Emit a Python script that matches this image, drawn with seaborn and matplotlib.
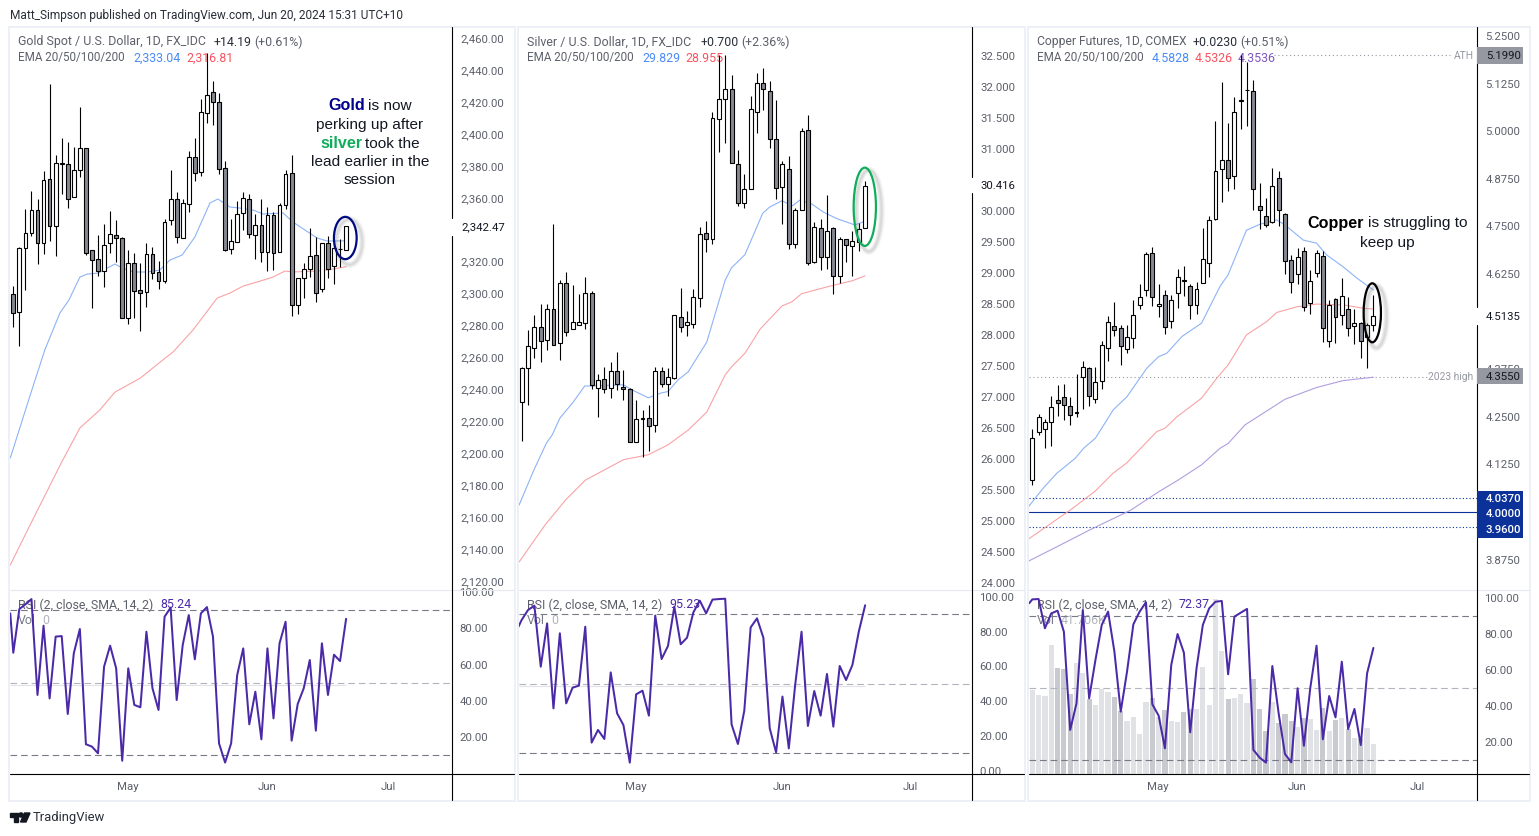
# Gold, silver and copper daily candles with EMA and RSI panes
import numpy as np
import matplotlib
matplotlib.use("Agg")
import matplotlib.pyplot as plt
from matplotlib.patches import Ellipse, Rectangle, Polygon, Circle
import seaborn as sns

# Gold
gold_open = [2299.5, 2288.6, 2328.3, 2337.7, 2352.1, 2331.9, 2371.5, 2342.1, 2381.3, 2380.9, 2360.2, 2377.2, 2390.9, 2327.1,
             2321.4, 2313.9, 2331.4, 2336.5, 2334.6, 2284.5, 2318.9, 2302.0, 2300.8, 2324.6, 2313.3, 2307.7, 2345.8, 2359.0,
             2334.6, 2355.9, 2385.3, 2375.9, 2412.8, 2426.0, 2419.7, 2378.4, 2327.7, 2332.5, 2350.2, 2359.0, 2336.5, 2342.7,
             2325.8, 2349.4, 2325.8, 2355.2, 2375.3, 2292.6, 2309.5, 2315.2, 2323.9, 2302.6, 2331.4, 2317.1, 2327.7, 2327.1]
gold_close = [2288.0, 2328.3, 2337.7, 2352.1, 2331.4, 2370.9, 2342.1, 2381.5, 2381.5, 2359.0, 2377.2, 2390.9, 2325.2, 2320.8,
              2313.9, 2330.2, 2337.1, 2334.6, 2284.5, 2318.9, 2301.4, 2300.6, 2324.6, 2312.7, 2307.7, 2344.6, 2359.0, 2335.2,
              2356.5, 2385.3, 2375.3, 2413.5, 2424.1, 2419.7, 2378.0, 2327.5, 2332.7, 2349.6, 2359.6, 2337.1, 2342.7, 2325.8,
              2349.0, 2325.2, 2355.2, 2374.6, 2292.6, 2309.5, 2315.2, 2323.3, 2300.1, 2331.4, 2315.2, 2328.3, 2328.1, 2342.47]
gold_high = [2304.7, 2329.3, 2352.9, 2364.2, 2359.2, 2376.7, 2431.2, 2386.8, 2397.4, 2394.9, 2391.8, 2416.8, 2390.9, 2327.3,
             2336.7, 2343.7, 2351.7, 2345.8, 2335.2, 2327.3, 2325.2, 2318.9, 2331.4, 2328.9, 2320.2, 2346.7, 2377.3, 2363.6,
             2359.0, 2389.5, 2397.2, 2421.8, 2450.4, 2433.1, 2425.4, 2383.0, 2346.7, 2357.7, 2363.6, 2362.1, 2349.6, 2359.0,
             2354.0, 2351.3, 2356.5, 2377.3, 2386.8, 2309.5, 2318.9, 2340.8, 2335.6, 2331.4, 2336.0, 2333.5, 2334.2, 2342.5]
gold_low = [2279.3, 2267.4, 2302.2, 2336.0, 2318.7, 2325.0, 2333.1, 2323.7, 2362.3, 2353.8, 2360.2, 2372.8, 2324.4, 2291.2,
            2311.0, 2304.3, 2325.2, 2319.6, 2284.5, 2281.2, 2284.9, 2276.8, 2291.4, 2308.9, 2303.1, 2306.4, 2343.1, 2331.9,
            2334.6, 2351.3, 2370.7, 2373.4, 2406.6, 2405.3, 2374.6, 2326.4, 2324.8, 2332.1, 2339.8, 2334.6, 2321.8, 2320.0,
            2314.3, 2314.7, 2325.8, 2353.2, 2286.2, 2287.4, 2297.0, 2310.2, 2294.9, 2301.2, 2309.5, 2306.0, 2316.4, 2327.1]
gold_ema20_x = [-0.5, 2.8, 5.2, 7.7, 9.2, 11, 12.2, 14, 16.8, 18, 19.8, 22.1, 24.2, 25.9, 27.9, 30, 32.5, 33.8, 35.8, 37.5,
                39.6, 41.3, 44.6, 46.2, 50.2, 51.9, 55]
gold_ema20 = [2197.0, 2236.5, 2264.6, 2287.8, 2296.0, 2310.3, 2312.2, 2312.8, 2318.5, 2316.0, 2313.5, 2313.5, 2314.7, 2321.0,
              2324.1, 2335.4, 2356.7, 2359.2, 2354.2, 2353.5, 2352.3, 2349.8, 2350.4, 2344.8, 2334.8, 2332.9, 2333.0]
gold_ema50_x = [-0.5, 2.5, 8, 11, 14.3, 16.8, 21, 24.7, 26.4, 29.7, 33.7, 35.8, 38, 40.8, 42.9, 44.9, 46.2, 50.2, 51.9, 55]
gold_ema50 = [2130.0, 2153.0, 2194.5, 2215.8, 2227.1, 2238.3, 2247.1, 2258.4, 2263.4, 2277.2, 2297.2, 2300.3, 2304.7, 2307.8,
              2310.3, 2314.1, 2313.5, 2314.1, 2314.7, 2316.8]
gold_rsi = [88.2, 66.5, 90.6, 93.2, 96.1, 43.2, 81.4, 41.3, 75.4, 75.7, 32.7, 66.2, 79.6, 16.0, 14.7, 11.0, 58.8, 70.4, 57.9,
            6.9, 57.9, 37.7, 36.4, 78.1, 46.9, 34.9, 86.4, 91.4, 40.4, 70.8, 87.3, 62.9, 88.2, 91.7, 75.4, 16.5, 5.9, 16.5,
            54.2, 68.9, 27.0, 45.0, 18.7, 68.9, 30.3, 71.7, 83.6, 18.0, 38.2, 46.9, 62.5, 23.5, 71.7, 43.2, 65.4, 61.9, 85.24]
gold_ticks = [2460, 2440, 2420, 2400, 2380, 2360, 2320, 2300, 2280, 2260, 2240, 2220, 2200, 2180, 2160, 2140, 2120]

# Silver
silver_open = [26.93, 27.47, 27.80, 28.13, 27.92, 28.43, 27.88, 28.85, 28.10, 28.17, 28.20, 28.68, 27.14, 27.29, 27.14, 27.42,
               27.17, 27.13, 26.27, 26.65, 26.67, 26.55, 27.43, 27.22, 27.31, 28.30, 28.16, 28.18, 28.60, 29.65, 29.56, 31.49,
               31.81, 31.97, 30.76, 30.13, 30.36, 31.61, 32.07, 31.94, 31.16, 30.40, 30.69, 29.47, 30.02, 31.31, 29.18, 29.73,
               29.26, 29.73, 28.95, 29.55, 29.44, 29.50, 29.73]
silver_close = [27.47, 27.82, 28.13, 27.90, 28.42, 27.84, 28.85, 28.06, 28.21, 28.21, 28.68, 27.19, 27.27, 27.13, 27.42, 27.21,
                27.13, 26.27, 26.64, 26.66, 26.54, 27.43, 27.22, 27.32, 28.32, 28.14, 28.21, 28.61, 29.63, 29.56, 31.50, 31.81,
                31.97, 30.78, 30.13, 30.36, 31.65, 32.08, 31.97, 31.16, 30.37, 30.76, 29.48, 30.02, 31.29, 29.16, 29.74, 29.26,
                29.68, 28.95, 29.55, 29.45, 29.52, 29.71, 30.416]
silver_high = [27.48, 28.08, 28.33, 28.51, 28.50, 29.80, 28.89, 29.02, 28.81, 28.67, 28.94, 28.71, 27.37, 27.48, 27.57, 27.73,
               27.44, 27.14, 26.96, 26.80, 26.87, 27.49, 27.49, 27.47, 28.32, 28.77, 28.39, 28.74, 29.75, 29.84, 31.60, 32.52,
               32.52, 32.20, 30.99, 30.61, 31.87, 32.24, 32.31, 32.10, 31.79, 30.81, 30.89, 30.05, 31.34, 31.56, 29.83, 29.88,
               30.26, 29.74, 29.59, 29.56, 29.68, 29.81, 30.49]
silver_low = [26.30, 26.88, 27.64, 27.56, 27.76, 27.84, 27.60, 27.98, 28.10, 28.17, 28.10, 27.13, 26.68, 27.06, 26.99, 27.11,
              26.96, 26.27, 26.27, 26.03, 26.13, 26.44, 27.17, 27.02, 27.30, 28.06, 27.98, 28.11, 28.46, 29.35, 29.48, 30.96,
              31.10, 30.78, 30.09, 30.06, 30.36, 31.27, 31.63, 31.03, 30.20, 29.80, 29.40, 29.41, 30.02, 29.13, 29.16, 29.05,
              29.07, 28.67, 28.84, 29.19, 28.95, 29.36, 29.73]
silver_ema20_x = [-0.4, 1.9, 3.9, 4.8, 6, 8.1, 9.9, 11, 16, 17.3, 19.9, 22, 23, 24.6, 26.2, 29.1, 32, 33, 35.1, 37.9, 39, 40.9,
                  42.6, 43.7, 45.6, 47.4, 49.6, 52.4, 53.7, 54]
silver_ema20 = [25.26, 25.82, 26.26, 26.39, 26.66, 26.92, 27.18, 27.18, 27.20, 27.12, 26.99, 27.07, 27.09, 27.28, 27.41, 27.89,
                28.89, 29.09, 29.30, 29.97, 30.07, 30.17, 30.09, 30.18, 30.12, 29.99, 29.88, 29.78, 29.83, 29.83]
silver_ema50_x = [-0.4, 3.7, 6.9, 10, 12.9, 16, 19.9, 23, 26.2, 29.1, 32, 33, 35.1, 37.5, 40.9, 42.5, 44, 48, 52, 54]
silver_ema50 = [24.34, 24.94, 25.34, 25.66, 25.82, 25.99, 26.07, 26.23, 26.47, 26.76, 27.36, 27.49, 27.71, 28.10, 28.47, 28.54,
                28.67, 28.78, 28.88, 28.96]
silver_rsi = [82.9, 86.8, 92.5, 95.0, 59.9, 84.8, 35.9, 79.1, 38.8, 47.8, 49.0, 82.9, 16.2, 23.5, 18.3, 56.6, 33.1, 26.3, 4.7,
              44.0, 46.1, 31.7, 89.3, 64.3, 71.8, 94.4, 72.8, 76.6, 91.2, 97.9, 90.6, 98.5, 98.8, 99.0, 26.7, 15.4, 34.6, 82.5,
              87.7, 76.6, 24.4, 10.6, 42.7, 12.9, 49.4, 80.0, 25.8, 45.9, 31.7, 55.7, 25.4, 60.3, 52.2, 60.9, 80.0, 95.23]
silver_ticks = [32.5, 32.0, 31.5, 31.0, 30.0, 29.5, 29.0, 28.5, 28.0, 27.5, 27.0, 26.5, 26.0, 25.5, 25.0, 24.5, 24.0]

# Copper
copper_open = [4.083, 4.211, 4.219, 4.236, 4.293, 4.301, 4.278, 4.261, 4.354, 4.377, 4.296, 4.343, 4.430, 4.488, 4.482, 4.427,
               4.456, 4.543, 4.582, 4.679, 4.540, 4.569, 4.501, 4.574, 4.608, 4.593, 4.543, 4.601, 4.653, 4.770, 4.900, 4.924,
               4.882, 5.080, 5.107, 5.105, 4.803, 4.777, 4.761, 4.876, 4.782, 4.661, 4.624, 4.685, 4.548, 4.627, 4.671, 4.448,
               4.559, 4.517, 4.532, 4.488, 4.496, 4.459, 4.490]
copper_close = [4.194, 4.249, 4.236, 4.275, 4.286, 4.282, 4.254, 4.263, 4.380, 4.304, 4.341, 4.438, 4.498, 4.477, 4.435, 4.459,
                4.517, 4.564, 4.677, 4.564, 4.545, 4.485, 4.556, 4.616, 4.607, 4.543, 4.585, 4.664, 4.766, 4.895, 4.924, 4.876,
                5.050, 5.081, 5.107, 4.847, 4.792, 4.753, 4.855, 4.792, 4.658, 4.603, 4.669, 4.538, 4.606, 4.679, 4.482, 4.543,
                4.511, 4.566, 4.482, 4.496, 4.448, 4.490, 4.5135]
copper_high = [4.218, 4.258, 4.244, 4.305, 4.334, 4.336, 4.303, 4.362, 4.397, 4.380, 4.380, 4.449, 4.515, 4.552, 4.491, 4.491,
               4.557, 4.599, 4.684, 4.696, 4.599, 4.583, 4.570, 4.638, 4.646, 4.598, 4.603, 4.745, 4.777, 5.027, 5.129, 5.022,
               5.090, 5.200, 5.183, 5.135, 4.863, 4.824, 4.903, 4.895, 4.784, 4.674, 4.693, 4.695, 4.636, 4.688, 4.686, 4.556,
               4.561, 4.614, 4.564, 4.532, 4.500, 4.497, 4.569]
copper_low = [4.072, 4.203, 4.169, 4.173, 4.253, 4.242, 4.229, 4.250, 4.271, 4.279, 4.286, 4.323, 4.397, 4.461, 4.387, 4.417,
              4.430, 4.534, 4.567, 4.541, 4.513, 4.468, 4.484, 4.536, 4.567, 4.508, 4.520, 4.601, 4.618, 4.767, 4.814, 4.844,
              4.848, 5.006, 5.014, 4.793, 4.743, 4.749, 4.758, 4.752, 4.624, 4.574, 4.598, 4.528, 4.519, 4.618, 4.447, 4.432,
              4.445, 4.490, 4.461, 4.442, 4.404, 4.377, 4.476]
copper_ema20_x = [-0.6, 1.7, 3.9, 6.8, 8.1, 10, 12.8, 15, 18.1, 20, 21.3, 23.7, 26.8, 29.7, 31, 33.9, 36.1, 38.7, 40, 42.9, 45,
                  46.6, 49.2, 51.4, 54]
copper_ema20 = [4.014, 4.062, 4.102, 4.141, 4.167, 4.194, 4.268, 4.303, 4.377, 4.408, 4.417, 4.461, 4.496, 4.592, 4.623, 4.740,
                4.756, 4.767, 4.754, 4.714, 4.706, 4.675, 4.644, 4.614, 4.583]
copper_ema50_x = [-0.6, 6, 9.9, 12.8, 14.9, 17.9, 19.7, 21, 22.9, 26.8, 29.2, 31, 33.9, 37.1, 38.7, 41.9, 45, 49.2, 52.4, 54]
copper_ema50 = [3.929, 4.005, 4.054, 4.102, 4.128, 4.180, 4.211, 4.220, 4.250, 4.299, 4.351, 4.386, 4.465, 4.500, 4.524, 4.539,
                4.546, 4.544, 4.535, 4.533]
copper_ema100_x = [-0.6, 4.4, 9.1, 15.6, 20, 23.1, 26.8, 29.7, 31, 33.7, 40, 45, 49.2, 54]
copper_ema100 = [3.871, 3.913, 3.953, 4.005, 4.053, 4.084, 4.124, 4.167, 4.180, 4.229, 4.296, 4.327, 4.345, 4.354]
copper_rsi = [97.2, 99.4, 99.6, 83.3, 91.6, 93.1, 81.4, 26.7, 41.5, 93.5, 44.3, 65.7, 85.2, 92.6, 70.3, 36.9, 59.2, 85.5, 92.6,
              97.8, 41.0, 34.7, 16.5, 62.9, 80.1, 69.7, 25.4, 61.0, 85.2, 94.4, 98.1, 98.5, 57.7, 89.8, 92.0, 94.1, 15.6, 11.3,
              8.5, 62.3, 36.0, 13.3, 8.7, 49.9, 17.9, 49.9, 73.6, 21.5, 45.6, 33.7, 64.7, 27.2, 38.4, 18.3, 58.2, 72.37]
copper_vol = [118.5, 111.4, 110.0, 182.5, 149.3, 148.4, 112.8, 156.9, 142.7, 105.7, 97.2, 119.9, 116.1, 108.5, 88.6, 74.4, 80.1,
              55.9, 101.9, 107.1, 80.1, 90.1, 74.4, 73.0, 87.2, 91.5, 91.5, 151.7, 97.2, 247.9, 174.0, 105.7, 107.1, 112.8,
              100.0, 134.1, 91.5, 60.2, 101.0, 71.6, 84.4, 74.4, 65.9, 78.2, 77.3, 61.6, 92.9, 60.2, 75.8, 78.7, 63.0, 50.2,
              48.8, 64.5, 41.7]
copper_ticks = [5.25, 5.125, 5.0, 4.875, 4.75, 4.625, 4.375, 4.25, 4.125, 3.875]
rsi_ticks_gold = [100, 80, 60, 40, 20]
rsi_ticks_silver = [100, 80, 60, 40, 20, 0]

WICK = "#000000"
DOWN = "#868993"
BLUE = "#8db3f7"
RED = "#f9a3a6"
PURPLE = "#b19de0"
RSI_COL = "#4b2aa8"
GREY_TXT = "#5d606b"
PANEL = "#eef0f7"
FONT = "Roboto"
ARIAL = "Liberation Sans"
LW = 0.8

sns.set_theme(style="white")
plt.rcParams["font.family"] = FONT

W, H = 1539, 836
fig = plt.figure(figsize=(W / 100, H / 100), dpi=100, facecolor="white")


def px_axes(x0, y0, x1, y1):
    return fig.add_axes([x0 / W, 1 - y1 / H, (x1 - x0) / W, (y1 - y0) / H])


def draw_candles(ax, o, h, l, c):
    o, h, l, c = map(np.array, (o, h, l, c))
    x = np.arange(len(o))
    ax.vlines(x, l, h, color=WICK, lw=LW, zorder=3)
    up = c >= o
    colors = np.where(up, "white", DOWN)
    ax.bar(x, np.maximum(np.abs(c - o), 1e-6), bottom=np.minimum(o, c), width=0.62, color=colors,
           edgecolor="black", linewidth=LW, zorder=4)


def draw_line(ax, xs, ys, color, lw=LW, z=2):
    sns.lineplot(x=xs, y=ys, ax=ax, color=color, lw=lw, zorder=z, sort=False, errorbar=None, legend=False)


def setup_price(ax, xlim, ylim, ticks, fmt):
    ax.set_xlim(xlim)
    ax.set_ylim(ylim)
    ax.yaxis.tick_right()
    ax.set_yticks(ticks)
    ax.set_yticklabels([fmt.format(t) for t in ticks])
    ax.set_xticks([])
    ax.set_xlabel("")
    ax.tick_params(axis="y", length=0, pad=6.2, labelsize=8.2, labelcolor=GREY_TXT)
    sns.despine(ax=ax, left=True, bottom=True)
    ax.patch.set_alpha(0)


def setup_rsi(ax, xlim, ylim, ticks, month_pos):
    ax.set_xlim(xlim)
    ax.set_ylim(ylim)
    ax.yaxis.tick_right()
    ax.set_yticks(ticks)
    ax.set_yticklabels(["{:.2f}".format(t) for t in ticks])
    ax.set_xticks(month_pos)
    ax.set_xticklabels(["May", "Jun", "Jul"])
    ax.tick_params(axis="y", length=0, pad=5.2, labelsize=8.2, labelcolor=GREY_TXT)
    ax.tick_params(axis="x", length=0, pad=6, labelsize=8.2, labelcolor=GREY_TXT)
    sns.despine(ax=ax, left=True, bottom=True)
    ax.patch.set_alpha(0)
    ax.axhline(90, color="#787b86", lw=LW, dashes=(6, 3.5), zorder=1)
    ax.axhline(50, color="#b2b5be", lw=LW, dashes=(6, 3.5), zorder=1)
    ax.axhline(10, color="#787b86", lw=LW, dashes=(6, 3.5), zorder=1)


def draw_rsi(ax, values):
    xs = [-0.5] + list(range(len(values) - 1))
    draw_line(ax, xs, values, RSI_COL, lw=1.45, z=5)


# Gold panes
ax1 = px_axes(10, 27, 452, 589.5)
draw_line(ax1, gold_ema20_x, gold_ema20, BLUE)
draw_line(ax1, gold_ema50_x, gold_ema50, RED)
draw_candles(ax1, gold_open, gold_high, gold_low, gold_close)
setup_price(ax1, (-0.545, 72.5), (2114.7, 2466.9), gold_ticks, "{:,.2f}")
rsi1 = px_axes(10, 589.5, 452, 773.5)
setup_rsi(rsi1, (-0.545, 72.5), (-0.14, 101.4), rsi_ticks_gold, [18.96, 41.9, 61.9])
rsi1.hlines(48.5, -0.545, 55, color="#e2e3e6", lw=LW, zorder=1)
draw_rsi(rsi1, gold_rsi)

# Silver panes
ax2 = px_axes(519, 27, 972, 589.5)
draw_line(ax2, silver_ema20_x, silver_ema20, BLUE)
draw_line(ax2, silver_ema50_x, silver_ema50, RED)
draw_candles(ax2, silver_open, silver_high, silver_low, silver_close)
setup_price(ax2, (-0.42, 70.8), (23.895, 32.976), silver_ticks, "{:.3f}")
rsi2 = px_axes(519, 589.5, 972, 773.5)
setup_rsi(rsi2, (-0.42, 70.8), (-1.56, 104.3), rsi_ticks_silver, [17.9, 41, 61.1])
rsi2.hlines(48.8, -0.42, 54, color="#e2e3e6", lw=LW, zorder=1)
draw_rsi(rsi2, silver_rsi)

# Copper panes
ax3 = px_axes(1029, 27, 1477, 589.5)
draw_line(ax3, copper_ema20_x, copper_ema20, BLUE)
draw_line(ax3, copper_ema50_x, copper_ema50, RED)
draw_line(ax3, copper_ema100_x, copper_ema100, PURPLE)
draw_candles(ax3, copper_open, copper_high, copper_low, copper_close)
setup_price(ax3, (-0.52, 70.4), (3.7965, 5.2736), copper_ticks, "{:.4f}")
for lvl, ls in [(4.037, (0, (1, 2))), (3.96, (0, (1, 2))), (4.0, "-")]:
    ax3.axhline(lvl, color="#0c3299", lw=LW, ls=ls, zorder=1)
ax3.hlines(4.355, -0.52, 62.8, color="#9598a1", lw=LW, ls=(0, (1, 2.5)), zorder=1)
ax3.hlines(5.199, 38.3, 66.2, color="#9598a1", lw=LW, ls=(0, (1, 2.5)), zorder=1)

vol3 = px_axes(1029, 589.5, 1477, 773.5)
vol3.set_zorder(-2)
vol_colors = ["#e1e2e6" if c >= o else "#c9cacf" for o, c in zip(copper_open, copper_close)]
vol3.bar(np.arange(len(copper_vol)), copper_vol, width=0.82, color=vol_colors, linewidth=0)
vol3.set_xlim(-0.52, 70.4)
vol3.set_ylim(0, 261)
vol3.axis("off")
rsi3 = px_axes(1029, 589.5, 1477, 773.5)
setup_rsi(rsi3, (-0.52, 70.4), (2.46, 104.9), rsi_ticks_gold, [19.9, 41.9, 60.9])
draw_rsi(rsi3, copper_rsi)

# Overlays in pixel coordinates: low one sits under the marks, top one over them
ov_low = fig.add_axes([0, 0, 1, 1], zorder=-1)
ov = fig.add_axes([0, 0, 1, 1], zorder=20)
for a in (ov_low, ov):
    a.set_xlim(0, W)
    a.set_ylim(H, 0)
    a.axis("off")


def label(x, y, s, color=GREY_TXT, size=8.95, ha="left", family=FONT, weight="normal", on=None):
    (on or ov).text(x, y, s, color=color, fontsize=size, ha=ha, va="center", family=family, weight=weight)


def header(x, y, s, color=GREY_TXT, size=8.95):
    label(x, y, s, color=color, size=size, on=ov_low)


for x0, x1, axis_x, gap in [(10, 514, 452, (218, 236)), (519, 1024, 972, (177, 193)), (1029, 1529, 1477, (307, 325))]:
    ov.add_patch(Rectangle((x0 - 1, 26.5), x1 - x0 + 2, 774, fill=False, ec=PANEL, lw=1.4))
    ov.plot([x0, x1], [589.5, 589.5], color="#e6e8f0", lw=LW)
    ov.plot([x0, x1], [773.5, 773.5], color="black", lw=LW)
    ov.plot([axis_x, axis_x], [27, gap[0]], color="black", lw=LW)
    ov.plot([axis_x, axis_x], [gap[1], 800], color="black", lw=LW)

# Top and bottom text
label(10, 15, "Matt_Simpson published on TradingView.com, Jun 20, 2024 15:31 UTC+10", color="#2a2e39", size=8.6)
label(33, 818, "TradingView", color="#2a2e39", size=9.4)
ov.add_patch(Polygon([(10, 813), (18, 813), (18, 822), (14, 822), (14, 817), (10, 817)], color="#131722"))
ov.add_patch(Circle((21, 815), 2.1, color="#131722"))
ov.add_patch(Polygon([(24.5, 813), (30, 813), (26, 822), (20.5, 822)], color="#131722"))

# Pane headers
header(18, 42, "Gold Spot / U.S. Dollar, 1D, FX_IDC")
header(214, 42, "+14.19", color="#2a2e39")
header(254, 42, "(+0.61%)")
header(18, 58, "EMA 20/50/100/200", size=8.4)
header(133, 58, "2,333.04", color="#4a8bf5")
header(186, 58, "2,316.81", color="#f7525f")

header(527, 42, "Silver / U.S. Dollar, 1D, FX_IDC")
header(701, 42, "+0.700", color="#2a2e39")
header(741, 42, "(+2.36%)")
header(527, 58, "EMA 20/50/100/200", size=8.4)
header(642, 58, "29.829", color="#4a8bf5")
header(685, 58, "28.955", color="#f7525f")

header(1037, 42, "Copper Futures, 1D, COMEX", size=8.75)
header(1193, 42, "+0.0230", color="#2a2e39")
header(1240, 42, "(+0.51%)")
header(1037, 58, "EMA 20/50/100/200", size=8.4)
header(1152, 58, "4.5828", color="#4a8bf5")
header(1195, 58, "4.5326", color="#f7525f")
header(1238, 58, "4.3536", color="#7e57c2")

# RSI and volume headers
for x, val, vol, vol_x in [(18, "85.24", "0", 42), (527, "95.23", "0", 551), (1037, "72.37", "41.706K", 1061)]:
    header(x, 605, "RSI (2, close, SMA, 14, 2)")
    header(x + 142, 605, val, color=RSI_COL)
    header(x, 621, "Vol", color="#787b86")
    header(vol_x, 621, vol, color="#b2b5be")

# Last prices and level tags
label(461, 227, "2,342.47", color="#131722", size=8.2)
label(980, 186, "30.416", color="#131722", size=8.2)
label(1486, 317, "4.5135", color="#131722", size=8.2)
for y0, y1, txt, y in [(47, 64, "5.1990", 56), (368, 384, "4.3550", 377)]:
    ov.add_patch(Rectangle((1477, y0), 46, y1 - y0, color="#9598a1", lw=0, zorder=5))
    ov.text(1486, y, txt, color="#131722", fontsize=8.2, va="center", zorder=6)
ov.add_patch(Rectangle((1477, 490.7), 46, 47, color="#0c3299", lw=0, zorder=5))
for txt, y in [("4.0370", 499), ("4.0000", 514), ("3.9600", 530)]:
    ov.text(1486, y, txt, color="white", fontsize=8.2, va="center", zorder=6, weight="medium")
label(1454, 56, "ATH", color="#9598a1", size=7.4)
label(1428, 377, "2023 high", color="#9598a1", size=7.4)


# Ellipses with soft shadow
def ring(cx, cy, w, h, color):
    for grow, a in [(7, 0.05), (5, 0.07), (3, 0.09), (1, 0.12)]:
        ov.add_patch(Ellipse((cx + 4, cy + 4), w + grow, h + grow, fill=False, ec="#777777", lw=2.5, alpha=a))
    ov.add_patch(Ellipse((cx, cy), w, h, fill=False, ec=color, lw=1.6))


ring(345.3, 238, 22.7, 42.3, "#000a80")
ring(864.8, 206.8, 22.3, 78.3, "#0fae5a")
ring(1372.3, 312.8, 17.3, 59, "#000000")

# Annotations
label(328, 105.5, "Gold", color="#00008b", size=11.6, family=ARIAL, weight="bold")
label(368, 105.5, "is now", color="#131722", size=11.1, family=ARIAL)
label(370, 124.5, "perking up after", color="#131722", size=11.1, family=ARIAL, ha="center")
label(320, 143.5, "silver", color="#0fae5a", size=11.6, family=ARIAL, weight="bold")
label(365, 143.5, "took the", color="#131722", size=11.1, family=ARIAL)
label(370, 161.5, "lead earlier in the", color="#131722", size=11.1, family=ARIAL, ha="center")
label(370, 180, "session", color="#131722", size=11.1, family=ARIAL, ha="center")
label(1307, 223.5, "Copper", color="#000000", size=11.6, family=ARIAL, weight="bold")
label(1368, 223.5, "is struggling to", color="#131722", size=11.1, family=ARIAL)
label(1387, 242.5, "keep up", color="#131722", size=11.1, family=ARIAL, ha="center")

fig.savefig("out.png", dpi=100, facecolor="white")
